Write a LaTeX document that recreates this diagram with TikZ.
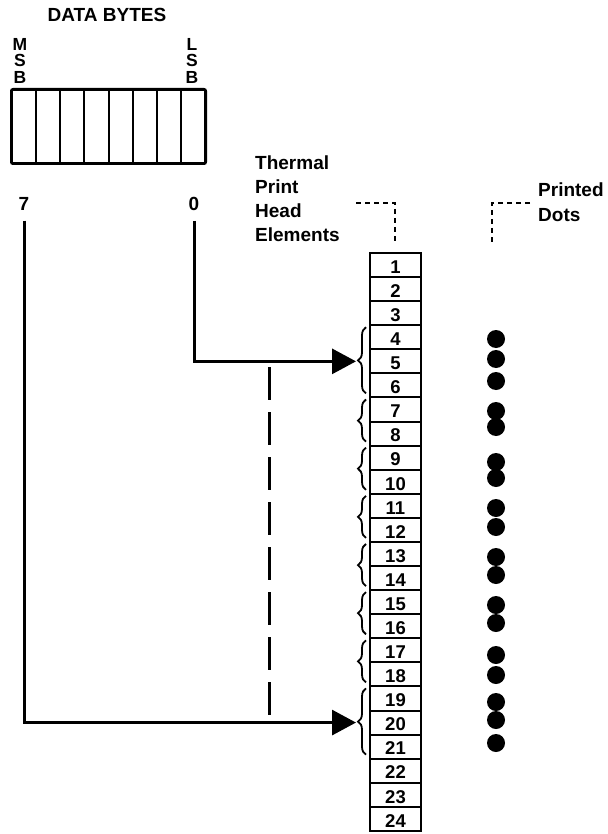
\documentclass[tikz,border=0pt]{standalone}
\usepackage{fontspec}
\setmainfont{Liberation Sans}
\usetikzlibrary{arrows.meta,decorations.pathreplacing}
\begin{document}
\begin{tikzpicture}[x=1pt,y=-1pt,
  lbl/.style={font=\fontsize{19}{22}\selectfont\bfseries, inner sep=0pt},
  letter/.style={font=\fontsize{17.5}{18}\selectfont\bfseries, inner sep=0pt, text height=12.5pt, text depth=0pt},
  cell/.style={draw, line width=2pt, minimum width=51pt, minimum height=24.08pt, inner sep=0pt, text height=16.5pt, text depth=0pt, font=\fontsize{18.5}{20}\selectfont\bfseries},
  bytecell/.style={draw, line width=2pt, minimum width=24.125pt, minimum height=73pt, inner sep=0pt},
  conn/.style={line width=3pt, -{Triangle[length=24pt,width=25pt]}},
  leader/.style={line width=2pt, dash pattern=on 5pt off 4pt},
  brc/.style={decorate, decoration={brace, amplitude=8pt}, line width=1.8pt},
  pdot/.style={circle, fill, minimum size=18pt, inner sep=0pt},
  longdash/.style={line width=3pt, dash pattern=on 33pt off 12pt}
]
\useasboundingbox (0,0) rectangle (607,834);

% data byte
\node[lbl] (title) at (107,14.5) {DATA BYTES};
\node[letter] (m1) at (20,44) {M};
\node[letter] (m2) at (20,60.5) {S};
\node[letter] (m3) at (20,77) {B};
\node[letter] (l1) at (192,44) {L};
\node[letter] (l2) at (192,60.5) {S};
\node[letter] (l3) at (192,77) {B};
\foreach \i in {1,...,8}
  \node[bytecell] (b\i) at ({12+24.125*(\i-0.5)},126.5) {};
\draw[line width=2pt, rounded corners=2pt] (b1.north west) rectangle (b8.south east);
\node[lbl] (n7) at (24,204) {7};
\node[lbl] (n0) at (194,204) {0};

% labels
\node[lbl, anchor=west] (th1) at (255,163) {Thermal};
\node[lbl, anchor=west] (th2) at (255,187) {Print};
\node[lbl, anchor=west] (th3) at (255,211) {Head};
\node[lbl, anchor=west] (th4) at (255,235) {Elements};
\node[lbl, anchor=west] (pd1) at (538,190) {Printed};
\node[lbl, anchor=west] (pd2) at (538,215) {Dots};

% print head cells
\foreach \i in {1,...,24}
  \node[cell] (c\i) at (395.5,{253+24.08*(\i-0.5)}) {\i};

% leaders
\coordinate (la) at (356,203);
\coordinate (lb) at (395,203);
\coordinate (lc) at (395,243);
\draw[leader] (la) -- (lb) -- (lc);
\coordinate (ra) at (530,203);
\coordinate (rb) at (492,203);
\coordinate (rc) at (492,242);
\draw[leader] (ra) -- (rb) -- (rc);

% braces
\foreach \a/\b in {4/6,7/8,9/10,11/12,13/14,15/16,17/18,19/21}
  \draw[brc] ([xshift=-3pt,yshift=5pt]c\b.south west) -- ([xshift=-3pt,yshift=-3pt]c\a.north west);

% arrows
\coordinate (tipA) at ([xshift=-13pt]c5.west);
\coordinate (tipB) at ([xshift=-13pt]c20.west);
\draw[conn] ([yshift=-10pt]n0.south) |- (tipA);
\draw[conn] ([yshift=-10pt]n7.south) |- (tipB);

% dashed line
\coordinate (dtop) at (269,367);
\coordinate (dbot) at (269,715);
\draw[longdash] (dtop) -- (dbot);

% printed dots
\foreach \y [count=\i] in {339,359,381,411,427,462,478,508,527,557,575,605,623,655,675,702,720,743}
  \node[pdot] (dot\i) at (496,\y) {};
\end{tikzpicture}
\end{document}
